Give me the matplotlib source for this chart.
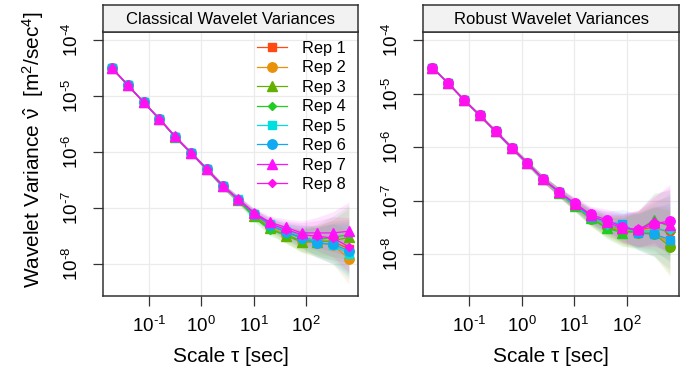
import numpy as np
import matplotlib
matplotlib.use('Agg')
import matplotlib.pyplot as plt
from matplotlib.ticker import FixedLocator, FuncFormatter, NullLocator

plt.rcParams['font.family'] = ['Liberation Sans', 'DejaVu Sans']
plt.rcParams['mathtext.fontset'] = 'custom'
plt.rcParams['mathtext.rm'] = 'Liberation Sans'
plt.rcParams['mathtext.it'] = 'Liberation Sans:italic'
plt.rcParams['mathtext.bf'] = 'Liberation Sans:bold'
plt.rcParams['mathtext.sf'] = 'Liberation Sans'

# ---------------- data ----------------
scales = [0.02, 0.04, 0.08, 0.16, 0.32, 0.64, 1.28, 2.56, 5.12,
          10.24, 20.48, 40.96, 81.92, 163.84, 327.68, 655.36]

rep_labels = ["Rep 1", "Rep 2", "Rep 3", "Rep 4", "Rep 5", "Rep 6", "Rep 7", "Rep 8"]
panel_titles = ["Classical Wavelet Variances", "Robust Wavelet Variances"]

# log10 of classical wavelet variance, one list per replicate
classical_rep1 = [-4.505, -4.804, -5.113, -5.41, -5.727, -6.013, -6.304, -6.60, -6.845, -7.10, -7.30, -7.42, -7.52, -7.58, -7.60, -7.72]
classical_rep2 = [-4.505, -4.804, -5.113, -5.41, -5.727, -6.013, -6.304, -6.60, -6.85, -7.12, -7.33, -7.47, -7.58, -7.62, -7.66, -7.90]
classical_rep3 = [-4.505, -4.804, -5.113, -5.41, -5.727, -6.013, -6.304, -6.60, -6.86, -7.14, -7.36, -7.49, -7.60, -7.60, -7.58, -7.52]
classical_rep4 = [-4.505, -4.804, -5.113, -5.41, -5.727, -6.013, -6.304, -6.60, -6.86, -7.16, -7.39, -7.47, -7.58, -7.56, -7.52, -7.47]
classical_rep5 = [-4.505, -4.804, -5.113, -5.41, -5.727, -6.013, -6.304, -6.60, -6.84, -7.10, -7.28, -7.40, -7.50, -7.60, -7.66, -7.81]
classical_rep6 = [-4.505, -4.804, -5.113, -5.41, -5.727, -6.013, -6.304, -6.60, -6.845, -7.11, -7.30, -7.43, -7.53, -7.62, -7.64, -7.76]
classical_rep7 = [-4.50, -4.80, -5.11, -5.405, -5.72, -6.01, -6.30, -6.595, -6.84, -7.08, -7.25, -7.34, -7.44, -7.44, -7.44, -7.41]
classical_rep8 = [-4.505, -4.804, -5.113, -5.41, -5.727, -6.013, -6.304, -6.60, -6.84, -7.09, -7.27, -7.38, -7.47, -7.50, -7.53, -7.69]

# log10 of robust wavelet variance, one list per replicate
robust_rep1 = [-4.517, -4.81, -5.12, -5.41, -5.71, -6.01, -6.30, -6.60, -6.84, -7.08, -7.30, -7.45, -7.54, -7.55, -7.50, -7.60]
robust_rep2 = [-4.517, -4.81, -5.12, -5.41, -5.71, -6.01, -6.30, -6.60, -6.85, -7.10, -7.32, -7.48, -7.55, -7.58, -7.60, -7.80]
robust_rep3 = [-4.517, -4.81, -5.12, -5.41, -5.71, -6.01, -6.30, -6.60, -6.85, -7.11, -7.34, -7.50, -7.58, -7.60, -7.62, -7.86]
robust_rep4 = [-4.517, -4.81, -5.12, -5.41, -5.71, -6.01, -6.30, -6.60, -6.86, -7.10, -7.33, -7.52, -7.60, -7.56, -7.36, -7.49]
robust_rep5 = [-4.517, -4.81, -5.12, -5.41, -5.71, -6.01, -6.30, -6.60, -6.85, -7.09, -7.31, -7.45, -7.52, -7.58, -7.55, -7.55]
robust_rep6 = [-4.517, -4.81, -5.12, -5.41, -5.71, -6.01, -6.30, -6.60, -6.84, -7.07, -7.30, -7.40, -7.44, -7.61, -7.63, -7.73]
robust_rep7 = [-4.517, -4.81, -5.12, -5.41, -5.71, -6.01, -6.30, -6.60, -6.84, -7.05, -7.26, -7.36, -7.50, -7.55, -7.44, -7.38]
robust_rep8 = [-4.517, -4.81, -5.12, -5.41, -5.71, -6.01, -6.30, -6.60, -6.84, -7.06, -7.28, -7.40, -7.52, -7.54, -7.40, -7.45]

# half-widths of the confidence bands (in decades)
classical_ci_up = [0.01, 0.012, 0.015, 0.02, 0.025, 0.03, 0.035, 0.045, 0.06, 0.08, 0.11, 0.15, 0.21, 0.28, 0.38, 0.52]
classical_ci_lo = [0.01, 0.012, 0.015, 0.02, 0.025, 0.03, 0.035, 0.045, 0.06, 0.08, 0.10, 0.14, 0.19, 0.26, 0.34, 0.45]
robust_ci_up = [0.015, 0.02, 0.025, 0.03, 0.035, 0.04, 0.05, 0.06, 0.08, 0.11, 0.15, 0.20, 0.27, 0.36, 0.50, 0.68]
robust_ci_lo = [0.015, 0.02, 0.025, 0.03, 0.035, 0.04, 0.05, 0.06, 0.08, 0.10, 0.14, 0.19, 0.26, 0.32, 0.42, 0.55]

x_ticks = [0.1, 1, 10, 100]
y_ticks = [1e-4, 1e-5, 1e-6, 1e-7, 1e-8]

# ---------------- style ----------------
colors = ["#FF4A12", "#E8920C", "#62B000", "#22CC22", "#00DEDE", "#10AAF2", "#FF10FF", "#FF10EC"]
markers_left = ["s", "o", "^", "D", "s", "o", "^", "D"]
markers_right = ["D", "s", "o", "^", "D", "s", "o", "^"]
msizes = {"s": 6.4, "o": 6.8, "^": 7.0, "D": 4.4}

W, H = 694, 372
fig = plt.figure(figsize=(W / 100, H / 100), dpi=100)

def fx(px):
    return px / W

def fy(py):
    return 1 - py / H

panels = [
    dict(x0=103, x1=358, ylim=(10 ** -8.565, 10 ** -3.848),
         data=[classical_rep1, classical_rep2, classical_rep3, classical_rep4,
               classical_rep5, classical_rep6, classical_rep7, classical_rep8],
         ci_up=classical_ci_up, ci_lo=classical_ci_lo, markers=markers_left),
    dict(x0=423.3, x1=679, ylim=(10 ** -8.785, 10 ** -3.841),
         data=[robust_rep1, robust_rep2, robust_rep3, robust_rep4,
               robust_rep5, robust_rep6, robust_rep7, robust_rep8],
         ci_up=robust_ci_up, ci_lo=robust_ci_lo, markers=markers_right),
]

top_px, bot_px, strip_top = 31.5, 296, 5
border = "#333333"
sc = np.array(scales)

def pow_fmt(v, pos):
    e = int(round(np.log10(v)))
    if e < 0:
        return r"$10^{\text{-}%d}$" % (-e)
    return r"$10^{%d}$" % e

axes = []
for i, p in enumerate(panels):
    ax = fig.add_axes([fx(p["x0"]), fy(bot_px), fx(p["x1"] - p["x0"]), (bot_px - top_px) / H])
    ax.set_xscale("log")
    ax.set_yscale("log")
    ax.set_xlim(10 ** -1.872, 10 ** 2.99)
    ax.set_ylim(*p["ylim"])
    ax.xaxis.set_major_locator(FixedLocator(x_ticks))
    ax.yaxis.set_major_locator(FixedLocator(y_ticks))
    ax.xaxis.set_minor_locator(NullLocator())
    ax.yaxis.set_minor_locator(NullLocator())
    ax.xaxis.set_major_formatter(FuncFormatter(pow_fmt))
    ax.yaxis.set_major_formatter(FuncFormatter(pow_fmt))
    ax.grid(True, color="#EBEBEB", lw=0.9, zorder=0)
    ax.set_axisbelow(True)
    for s in ax.spines.values():
        s.set_color(border)
        s.set_linewidth(1.1)
    ax.tick_params(axis="both", direction="out", length=7, width=0.9, color=border,
                   labelsize=13.5, labelcolor="black")
    ax.tick_params(axis="x", pad=7)
    ax.tick_params(axis="y", pad=8)
    for lab in ax.get_yticklabels():
        lab.set_rotation(90)
        lab.set_va("center")

    # confidence bands
    for k in range(8):
        v = 10 ** np.array(p["data"][k])
        up = v * 10 ** np.array(p["ci_up"])
        lo = v / 10 ** np.array(p["ci_lo"])
        ax.fill_between(sc, lo, up, color=colors[k], alpha=0.10, lw=0, zorder=1)
    lines = []
    for k in range(8):
        v = 10 ** np.array(p["data"][k])
        m = p["markers"][k]
        ln, = ax.plot(sc, v, color=colors[k], lw=0.9, marker=m, ms=msizes[m],
                      mec=colors[k], mfc=colors[k], zorder=3 + k, label=rep_labels[k])
        lines.append(ln)
    ax.set_xlabel("Scale τ [sec]", fontsize=15, labelpad=8)
    axes.append((ax, lines))

    # strip
    sax = fig.add_axes([fx(p["x0"]), fy(top_px), fx(p["x1"] - p["x0"]), (top_px - strip_top) / H])
    sax.set_facecolor("#F2F2F2")
    sax.set_xticks([])
    sax.set_yticks([])
    for s in sax.spines.values():
        s.set_color(border)
        s.set_linewidth(1.1)
    sax.text(0.5, 0.47, panel_titles[i], ha="center", va="center", fontsize=12,
             transform=sax.transAxes)

ax0, lines0 = axes[0]
ax0.legend(lines0, rep_labels, loc="upper left", bbox_to_anchor=(fx(257), fy(41)),
           bbox_transform=fig.transFigure, frameon=False, fontsize=11.8,
           borderpad=0, borderaxespad=0, handlelength=1.85, handletextpad=0.9,
           labelspacing=0.27)

fig.text(fx(33), fy(150), r"Wavelet Variance $\hat{\mathrm{\nu}}$  [m$^2$/sec$^4$]",
         rotation=90, ha="center", va="center", fontsize=15)

fig.savefig("out.png", dpi=100)
